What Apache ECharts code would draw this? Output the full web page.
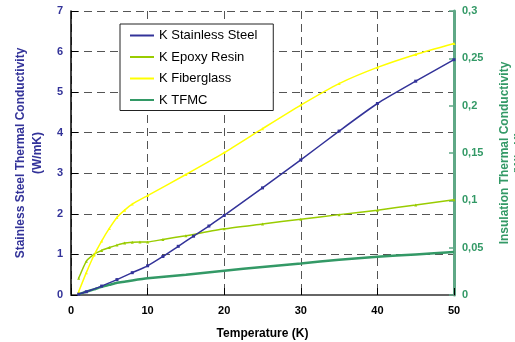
<!DOCTYPE html>
<html><head><meta charset="utf-8">
<script src="https://cdn.jsdelivr.net/npm/echarts@6/dist/echarts.min.js"></script>
<style>html,body{margin:0;padding:0;background:#fff}#c{width:515px;height:342px}</style>
</head><body><div id="c"></div>
<script>
// Temperature (K)
const tSteel = [1,2,4,6,8,10,12,14,16,18,20,25,30,35,40,45,50];
const kSteel = [0.02,0.08,0.22,0.38,0.55,0.72,0.95,1.2,1.45,1.7,1.96,2.64,3.33,4.04,4.72,5.27,5.8];
const tFiber = [1,2,3,4,5,6,7,8,10,15,20,25,30,35,40,45,50];
const kFiber = [0.0034,0.0236,0.042,0.057,0.0703,0.0819,0.0896,0.096,0.105,0.1273,0.1504,0.1757,0.2006,0.2233,0.2404,0.2541,0.2657];
const tEpoxy = [1,2,3,4,5,6,7,8,9,10,12,15,20,25,30,35,40,45,50];
const kEpoxy = [0.0176,0.0356,0.0429,0.0471,0.0501,0.0527,0.0549,0.0557,0.0561,0.0561,0.0587,0.0626,0.0699,0.075,0.0801,0.0849,0.0896,0.0951,0.1007];
const tTfmc = [1,2,3,4,5,6,7,8,10,15,20,25,30,35,40,45,50];
const kTfmc = [0.0009,0.0034,0.006,0.0086,0.0107,0.0129,0.0141,0.0154,0.0176,0.0214,0.0257,0.0296,0.0334,0.0373,0.0403,0.0429,0.0454];
const seriesNames = ['K Stainless Steel','K Epoxy Resin','K Fiberglass','K TFMC'];

const zip = (a,b) => a.map((x,i)=>[x,b[i]]);
const font = 'Liberation Sans, Arial, sans-serif';
const grid = {type:[8,5], color:'#555', width:1};

const chart = echarts.init(document.getElementById('c'));
chart.setOption({
  animation:false,
  textStyle:{fontFamily:font},
  grid:{left:71, right:61, top:11, bottom:47, containLabel:false, outerBoundsMode:'none'},
  legend:{
    orient:'vertical', left:120, top:24,
    backgroundColor:'#fff', borderColor:'#222', borderWidth:1,
    padding:[4,16,3,10], itemWidth:24, itemHeight:2, itemGap:6.5, icon:'rect',
    textStyle:{fontSize:13, color:'#000', fontFamily:font, lineHeight:15},
    data:seriesNames
  },
  xAxis:{
    type:'value', min:0, max:50, interval:10,
    name:'Temperature (K)', nameLocation:'middle', nameGap:33,
    nameTextStyle:{fontSize:12, fontWeight:'bold', color:'#000'},
    axisLine:{lineStyle:{color:'#666', width:2}},
    axisTick:{inside:true, length:7, lineStyle:{color:'#000'}},
    axisLabel:{fontSize:11, fontWeight:'bold', color:'#000', margin:10},
    splitLine:{show:true, lineStyle:grid}
  },
  yAxis:[{
    type:'value', min:0, max:7, interval:1, position:'left',
    name:'Stainless Steel Thermal Conductivity\n(W/mK)', nameLocation:'middle', nameRotate:90, nameGap:24,
    nameTextStyle:{fontSize:12, fontWeight:'bold', color:'#333399', lineHeight:17},
    axisLine:{show:true, lineStyle:{color:'#000', width:1.5}},
    axisTick:{show:true, inside:true, length:7, lineStyle:{color:'#000'}},
    axisLabel:{fontSize:11, fontWeight:'bold', color:'#333399', margin:8},
    splitLine:{show:true, lineStyle:grid}
  },{
    type:'value', min:0, max:0.3, interval:0.05, position:'right',
    name:'Insulation Thermal Conductivity\n(W/mK)', nameLocation:'middle', nameRotate:90, nameGap:43,
    nameTextStyle:{fontSize:12, fontWeight:'bold', color:'#339966', lineHeight:15},
    axisLine:{show:true, lineStyle:{color:'#5fa886', width:3}},
    axisTick:{show:true, inside:true, length:5, lineStyle:{color:'#5fa886', width:1.5}},
    axisLabel:{fontSize:11, fontWeight:'bold', color:'#339966', margin:8,
      formatter:v=>String(Math.round(v*100)/100).replace('.',',')},
    splitLine:{show:false}
  }],
  series:[
    {name:seriesNames[0], type:'line', yAxisIndex:0, data:zip(tSteel,kSteel), smooth:0.2,
     symbol:'rect', symbolSize:3, color:'#333399', lineStyle:{width:1.5}, z:4},
    {name:seriesNames[1], type:'line', yAxisIndex:1, data:zip(tEpoxy,kEpoxy), smooth:0.2,
     symbol:'triangle', symbolSize:3, color:'#99cc00', lineStyle:{width:1.5}, z:3},
    {name:seriesNames[2], type:'line', yAxisIndex:1, data:zip(tFiber,kFiber), smooth:0.2,
     symbol:'triangle', symbolSize:3, color:'#ffff00', lineStyle:{width:1.5}, z:3},
    {name:seriesNames[3], type:'line', yAxisIndex:1, data:zip(tTfmc,kTfmc), smooth:0.2,
     symbol:'none', color:'#339966', lineStyle:{width:2.5}, z:2}
  ]
});
</script></body></html>
